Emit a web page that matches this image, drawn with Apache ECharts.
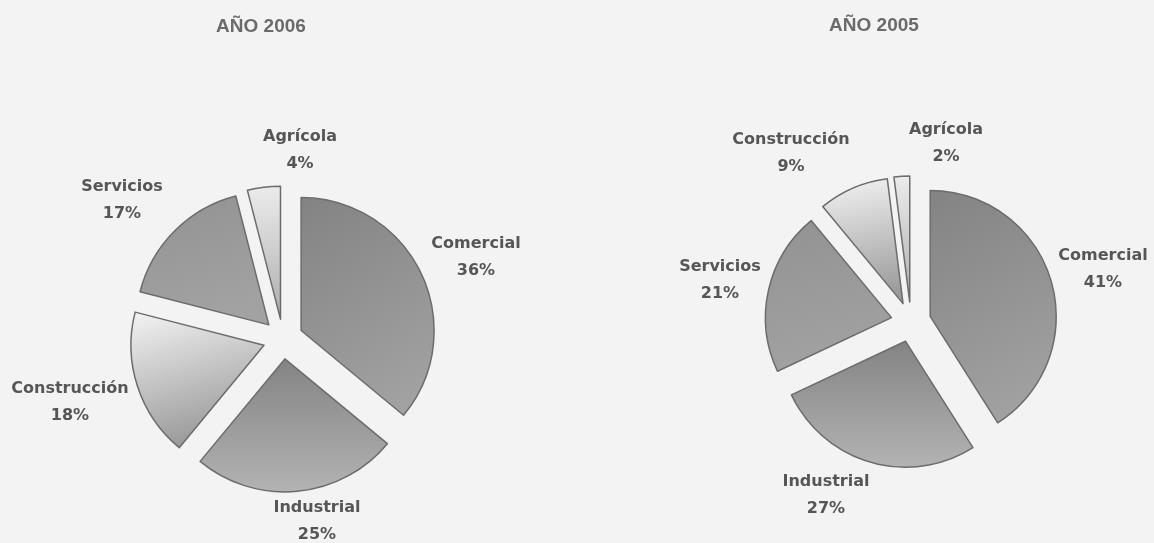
<!DOCTYPE html>
<html>
<head>
<meta charset="utf-8">
<script src="https://cdn.jsdelivr.net/npm/echarts@6/dist/echarts.min.js"></script>
<style>
html,body{margin:0;padding:0;background:#f3f3f3;}
#chart{width:1154px;height:543px;}
</style>
</head>
<body>
<div id="chart"></div>
<script>
// Data
const titles = ['AÑO 2006', 'AÑO 2005'];
const categories2006 = ['Comercial', 'Industrial', 'Construcción', 'Servicios', 'Agrícola'];
const values2006 = [36, 25, 18, 17, 4];
const categories2005 = ['Comercial', 'Industrial', 'Servicios', 'Construcción', 'Agrícola'];
const values2005 = [41, 27, 21, 9, 2];

// Layout / style (not data): label block centres
const labelCenters = [
  { 'Comercial': [476, 257], 'Industrial': [317, 521], 'Construcción': [70, 402], 'Servicios': [122, 200], 'Agrícola': [300, 150] },
  { 'Comercial': [1103, 269], 'Industrial': [826, 495], 'Servicios': [720, 280], 'Construcción': [791, 153], 'Agrícola': [946, 143] }
];

function grad(x2, y2, c1, c2) {
  return { type: 'linear', x: 0, y: 0, x2: x2, y2: y2,
    colorStops: [{ offset: 0, color: c1 }, { offset: 1, color: c2 }] };
}
const fills = {
  'Comercial': grad(1, 1, '#838383', '#a5a5a5'),
  'Industrial': grad(0, 1, '#838383', '#b3b3b3'),
  'Construcción': grad(0.3, 1, '#f4f4f4', '#9a9a9a'),
  'Servicios': grad(0.3, 1, '#929292', '#a2a2a2'),
  'Agrícola': grad(0, 1, '#ececec', '#adadad')
};

function buildData(cats, vals) {
  return cats.map((c, i) => ({
    name: c, value: vals[i], selected: true,
    itemStyle: { color: fills[c] }
  }));
}

function pieSeries(cats, vals, center, radius) {
  return {
    type: 'pie',
    center: center,
    radius: radius,
    startAngle: 90,
    clockwise: true,
    selectedMode: 'multiple',
    selectedOffset: 20,
    animation: false,
    data: buildData(cats, vals),
    itemStyle: { borderColor: '#6c6c6c', borderWidth: 1.5 },
    label: { show: false },
    labelLine: { show: false },
    emphasis: { disabled: true }
  };
}

function labelGraphics(idx, cats, vals) {
  return cats.map((c, i) => ({
    type: 'text',
    silent: true,
    x: labelCenters[idx][c][0],
    y: labelCenters[idx][c][1],
    style: {
      text: c + '\n' + vals[i] + '%',
      fill: '#565656',
      fontFamily: '"DejaVu Sans", sans-serif',
      fontWeight: 'bold',
      fontSize: 16,
      lineHeight: 27,
      align: 'center',
      verticalAlign: 'middle'
    }
  }));
}

const titleStyle = { fontFamily: '"Liberation Sans", Arial, sans-serif', fontSize: 19, fontWeight: 'bold', color: '#6a6a6a' };

const chart = echarts.init(document.getElementById('chart'));
chart.setOption({
  backgroundColor: '#f3f3f3',
  title: [
    { text: titles[0], left: 261, top: 17, padding: 0, textAlign: 'center', textStyle: titleStyle },
    { text: titles[1], left: 874, top: 16, padding: 0, textAlign: 'center', textStyle: titleStyle }
  ],
  graphic: labelGraphics(0, categories2006, values2006).concat(labelGraphics(1, categories2005, values2005)),
  series: [
    pieSeries(categories2006, values2006, [283, 339], 133),
    pieSeries(categories2005, values2005, [911, 322], 126)
  ]
});
</script>
</body>
</html>
